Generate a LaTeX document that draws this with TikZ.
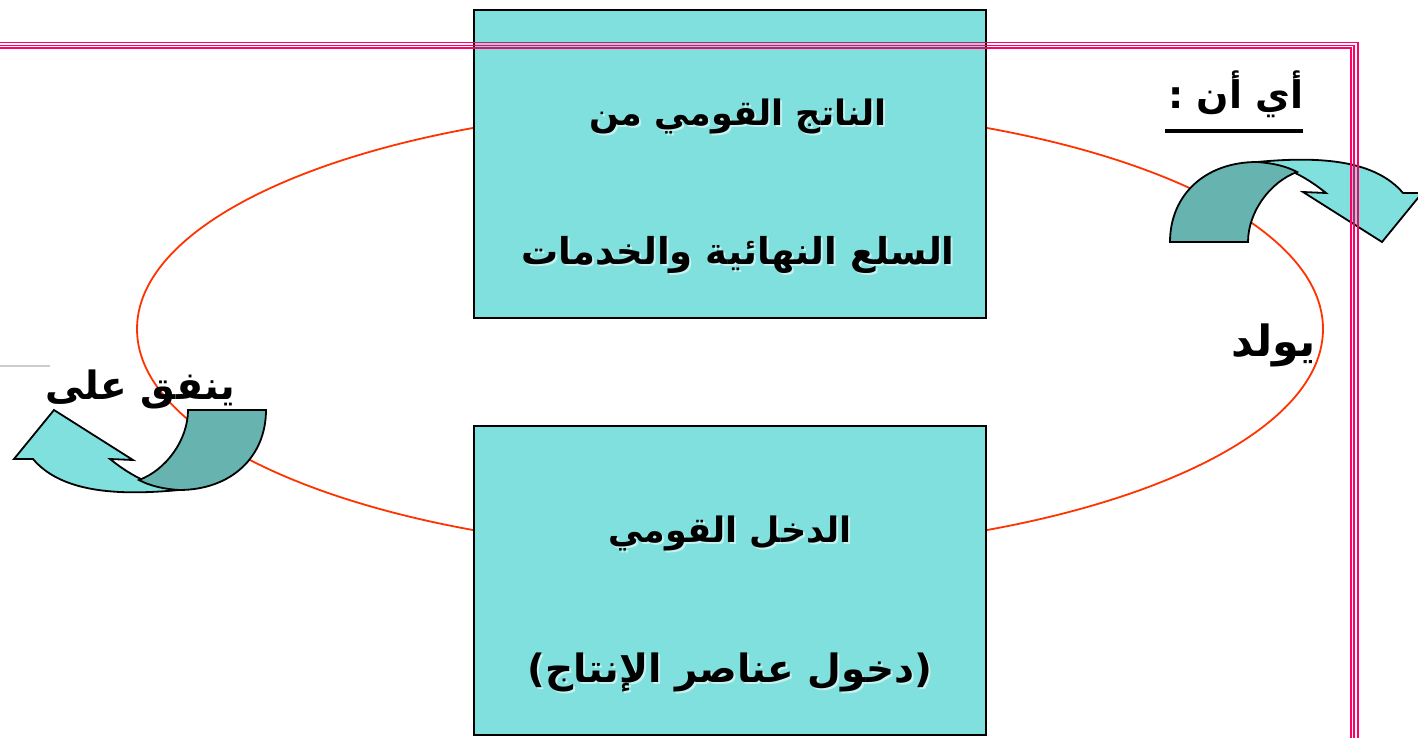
\documentclass[tikz,border=0pt]{standalone}
\usepackage{fontspec}
\TeXXeTstate=1
\newfontfamily\arabicfont[Script=Arabic]{DejaVu Sans}
\definecolor{boxfill}{RGB}{127,224,222}
\definecolor{darkband}{RGB}{102,179,176}
\definecolor{ringred}{RGB}{255,51,0}
\definecolor{borderpink}{RGB}{255,0,102}
\newcommand{\AR}[1]{\arabicfont\bfseries\beginR #1\endR}
\tikzset{
  infobox/.style={draw=black, line width=2.4pt, fill=boxfill},
  ring/.style={draw=ringred, line width=1.8pt},
  bandlight/.style={draw=black, line width=1.8pt, fill=boxfill, line join=miter},
  banddark/.style={draw=black, line width=1.8pt, fill=darkband, line join=miter},
  pinkline/.style={draw=borderpink},
  boxtext/.style={inner sep=0pt, text=black, font=\fontsize{35}{40}\selectfont},
  glowtext/.style={inner sep=0pt, text=white!55!boxfill, font=\fontsize{35}{40}\selectfont},
  labeltext/.style={inner sep=0pt, text=black, font=\fontsize{39}{44}\selectfont},
}
\begin{document}
\begin{tikzpicture}[x=1pt, y=-1pt]
\clip (0,0) rectangle (1418,738);
\fill[white] (0,0) rectangle (1418,738);

% ellipse cycle
\draw[ring] (730,329) ellipse [x radius=593, y radius=223];

% grey stub at left
\draw[draw=black!20, line width=1.5pt] (0,366) -- (50,366);

% boxes
\node[infobox, minimum width=512pt, minimum height=308pt, inner sep=0pt] (top) at (730,164) {};
\node[infobox, minimum width=512pt, minimum height=309pt, inner sep=0pt] (bot) at (730,580.5) {};

% curved arrow (top right) and its 180-degree copy (left)
\newcommand{\curvedarrow}{%
  \path[bandlight] (1257,162) .. controls (1320,156) and (1375,160) .. (1403,193)
     -- (1422,193) -- (1382,242) -- (1303,192) -- (1326,193)
     .. controls (1310,180) and (1285,164) .. (1257,162) -- cycle;
  \path[banddark] (1170,242) .. controls (1170,195) and (1205,162) .. (1257,162)
     .. controls (1272,163) and (1286,166) .. (1297,172)
     .. controls (1270,182) and (1248,212) .. (1248,242) -- cycle;
}
\begin{scope}\curvedarrow\end{scope}
\begin{scope}[rotate around={180:(718,326)}]\curvedarrow\end{scope}

% box texts (with light glow)
\node[glowtext] (t1g) at (740,118) {\AR{الناتج القومي من}};
\node[boxtext] (t1) at (738,116) {\AR{الناتج القومي من}};
\node[glowtext, font=\fontsize{37}{40}\selectfont] (t2g) at (740,257) {\AR{السلع النهائية والخدمات}};
\node[boxtext, font=\fontsize{37}{40}\selectfont] (t2) at (738,255) {\AR{السلع النهائية والخدمات}};
\node[glowtext] (b1g) at (732,535) {\AR{الدخل القومي}};
\node[boxtext] (b1) at (730,533) {\AR{الدخل القومي}};
\node[glowtext, font=\fontsize{39}{42}\selectfont] (b2g) at (732,674) {\AR{(دخول عناصر الإنتاج)}};
\node[boxtext, font=\fontsize{39}{42}\selectfont] (b2) at (730,672) {\AR{(دخول عناصر الإنتاج)}};

% side labels
\node[labeltext, font=\fontsize{43}{46}\selectfont] (yld) at (1274,345) {\AR{يولد}};
\node[labeltext] (ynf) at (140,389) {\AR{ينفق على}};
\node[labeltext, font=\fontsize{38}{42}\selectfont] (ayan) at (1236,94) {\AR{أي أن :}};
\coordinate (ulL) at (1165,131);
\coordinate (ulR) at (1303,131);
\draw[line width=3.2pt] (ulL) -- (ulR);

% triple pink border
\draw[pinkline, line width=1.4pt] (-10,42.4) -| (1358,760);
\draw[pinkline, line width=1.2pt] (-10,45.2) -| (1354,760);
\draw[pinkline, line width=1.8pt] (-10,48.2) -| (1351,760);
\end{tikzpicture}
\end{document}
